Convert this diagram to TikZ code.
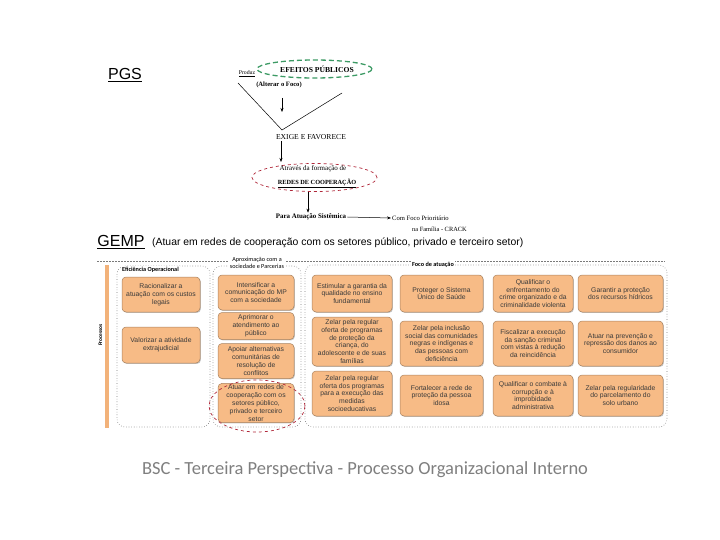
\documentclass[tikz,border=0pt]{standalone}
\usepackage{fontspec}
\setmainfont{Liberation Serif}
\newfontfamily\arialfont{Liberation Sans}
\newfontfamily\calfont{Carlito}
\usepackage{tikz}
\usetikzlibrary{shapes.geometric, arrows.meta, shadows}
\definecolor{BoxFill}{HTML}{F7BB86}
\definecolor{BoxEdge}{HTML}{A8825F}
\definecolor{BoxText}{HTML}{3A3A3A}
\definecolor{BarOrange}{HTML}{F2B27A}
\definecolor{FocoGreen}{HTML}{3C9A64}
\definecolor{RedeRed}{HTML}{B0283A}
\definecolor{FrameGrey}{HTML}{7A7A7A}
\definecolor{CaptionGrey}{HTML}{7F7F7F}

\begin{document}
\begin{tikzpicture}[
  x=1pt, y=-1pt,
  goal/.style={
    rectangle, rounded corners=4pt,
    draw=BoxEdge, fill=BoxFill, line width=0.5pt,
    drop shadow={shadow xshift=0.9pt, shadow yshift=-0.9pt, fill=black!45},
    align=center, text=BoxText, inner sep=1.5pt,
    font=\arialfont\fontsize{6.8}{7.8}\selectfont
  },
  group/.style={rounded corners=8pt, draw=FrameGrey, dotted, line width=0.6pt},
  note/.style={font=\fontsize{6.6}{7.4}\selectfont, inner sep=1pt},
  label/.style={font=\calfont\fontsize{6.2}{6.6}\selectfont, fill=white, inner sep=1pt, align=center},
  arr/.style={-{Stealth[length=4pt, width=3pt]}, line width=0.5pt},
]
\useasboundingbox (0,0) rectangle (720,540);

% PGS header
\node[font=\arialfont\fontsize{16}{18}\selectfont, inner sep=0] (pgs) at (125,75) {\underline{PGS}};
\node[note, font=\fontsize{5.8}{6.6}\selectfont] (produz) at (247,74) {\underline{Produz}};
\node[ellipse, draw=FocoGreen, dashed, dash pattern=on 5pt off 3pt, line width=1.3pt,
      minimum width=115, minimum height=18, inner sep=0] (efeitosel) at (314.5,69) {};
\node[font=\bfseries\fontsize{7.6}{8}\selectfont, inner sep=0] (efeitos) at (317,69) {EFEITOS PÚBLICOS};
\node[note, font=\bfseries\fontsize{6.6}{7.4}\selectfont] (foco) at (279,85) {(Alterar o Foco)};

% V shape and arrow
\coordinate (vleft) at (238,83);
\coordinate (vbase) at (282,130);
\coordinate (vright) at (342,93);
\draw[line width=0.5pt] (vleft) -- (vbase) -- (vright);
\coordinate (vtop) at (282,98);
\coordinate (vtip) at (282,112);
\draw[arr] (vtop) -- (vtip);

\node[note, font=\fontsize{7.6}{8}\selectfont] (exige) at (311,137) {EXIGE E FAVORECE};

% redes de cooperacao
\node[ellipse, draw=RedeRed, dashed, line width=0.7pt,
      minimum width=125, minimum height=28, inner sep=0] (redes) at (314.5,177.5) {};
\node[note, font=\fontsize{7}{7.6}\selectfont] (atraves) at (313,168.5) {Através da formação de};
\node[note, font=\bfseries\fontsize{6.3}{7}\selectfont] (redestxt) at (317,183) {\underline{REDES DE COOPERAÇÃO}};
\coordinate (redesin) at (281,162);
\draw[arr] (exige.south -| redesin) -- (redesin);

\node[note, font=\bfseries\fontsize{6.9}{7.6}\selectfont] (para) at (311,217) {Para Atuação Sistêmica};
\draw[arr] (redes.south -| 308,0) -- (para.north -| 308,0);
\node[note, anchor=west] (crack1) at (391,218) {Com Foco Prioritário};
\node[note, anchor=west, font=\fontsize{6.4}{7}\selectfont] (crack2) at (411,229) {na Família - CRACK};
\draw[arr] (para.east) -- (crack1.west);

% GEMP header
\node[font=\arialfont\fontsize{16}{18}\selectfont, inner sep=0] (gemp) at (121,242) {\underline{GEMP}};
\node[font=\arialfont\fontsize{10.4}{12}\selectfont, anchor=west, inner sep=0] (gemptxt) at (152,243)
  {(Atuar em redes de cooperação com os setores público, privado e terceiro setor)};

% frames
\draw[FrameGrey, dashed, dash pattern=on 2pt off 1pt, line width=0.5pt] (97,261) -- (665,261);
\fill[BarOrange] (105,265) rectangle (108.5,428);
\node[rotate=90, font=\calfont\bfseries\fontsize{5.4}{6}\selectfont, inner sep=0] (processos) at (100.5,335) {Processos};
\draw[group] (117,266) rectangle (210,427);
\draw[group] (213,266) rectangle (301,427);
\draw[group] (305,265) rectangle (667,427);
\node[label, font=\calfont\bfseries\fontsize{6.2}{6.6}\selectfont, anchor=west] (efic) at (121,270) {Eficiência Operacional};
\node[label] (aprox) at (257,263) {Aproximação com a\\sociedade e Parcerias};
\node[label, font=\calfont\bfseries\fontsize{6.2}{6.6}\selectfont] (focoat) at (433,265) {Foco de atuação};

% Eficiencia Operacional
\node[goal, minimum width=78, minimum height=35] (racion) at (161,294.5) {Racionalizar a\\atuação com os custos\\legais};
\node[goal, minimum width=78, minimum height=36] (valor) at (161,345) {Valorizar a atividade\\extrajudicial};

% Aproximacao com a sociedade
\node[goal, minimum width=76, minimum height=35] (comun) at (256,292.5) {Intensificar a\\comunicação do MP\\com a sociedade};
\node[goal, minimum width=76, minimum height=27] (atend) at (256,326) {Aprimorar o\\atendimento ao\\público};
\node[goal, minimum width=76, minimum height=35] (confl) at (256,361) {Apoiar alternativas\\comunitárias de\\resolução de\\conflitos};
\node[goal, minimum width=76, minimum height=38] (atuar) at (256,403) {Atuar em redes de\\cooperação com os\\setores público,\\privado e terceiro\\setor};
\node[ellipse, draw=RedeRed, dashed, line width=0.7pt, minimum width=96, minimum height=52, inner sep=0] (atuarel) at (257,406) {};

% Foco de atuacao
\node[goal, minimum width=80, minimum height=37] (ensino) at (352,293.5) {Estimular a garantia da\\qualidade no ensino\\fundamental};
\node[goal, minimum width=80, minimum height=49] (crianca) at (352,341.5) {Zelar pela regular\\oferta de programas\\de proteção da\\criança, do\\adolescente e de suas\\famílias};
\node[goal, minimum width=80, minimum height=45] (medidas) at (352,393.5) {Zelar pela regular\\oferta dos programas\\para a execução das\\medidas\\socioeducativas};

\node[goal, minimum width=83, minimum height=37] (sus) at (441.5,293.5) {Proteger o Sistema\\Único de Saúde};
\node[goal, minimum width=83, minimum height=45] (inclusao) at (441.5,343.5) {Zelar pela inclusão\\social das comunidades\\negras e indígenas e\\das pessoas com\\deficiência};
\node[goal, minimum width=83, minimum height=41] (idosa) at (441.5,395.5) {Fortalecer a rede de\\proteção da pessoa\\idosa};

\node[goal, minimum width=80, minimum height=37] (crime) at (533,293.5) {Qualificar o\\enfrentamento do\\crime organizado e da\\criminalidade violenta};
\node[goal, minimum width=80, minimum height=45] (sancao) at (533,343.5) {Fiscalizar a execução\\da sanção criminal\\com vistas à redução\\da reincidência};
\node[goal, minimum width=80, minimum height=41] (corrup) at (533,395.5) {Qualificar o combate à\\corrupção e à\\improbidade\\administrativa};

\node[goal, minimum width=85, minimum height=37] (hidricos) at (620.5,293.5) {Garantir a proteção\\dos recursos hídricos};
\node[goal, minimum width=85, minimum height=45] (consum) at (620.5,343.5) {Atuar na prevenção e\\repressão dos danos ao\\consumidor};
\node[goal, minimum width=85, minimum height=41] (solo) at (620.5,395.5) {Zelar pela regularidade\\do parcelamento do\\solo urbano};

% caption
\node[font=\calfont\fontsize{18.5}{20}\selectfont, text=CaptionGrey] (caption) at (365,470)
  {BSC - Terceira Perspectiva - Processo Organizacional Interno};

\end{tikzpicture}
\end{document}
